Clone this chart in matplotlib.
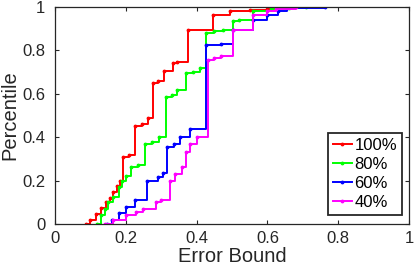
import matplotlib
matplotlib.use("Agg")
import matplotlib.pyplot as plt

plt.rcParams['font.family'] = ['Liberation Sans', 'DejaVu Sans']

x100 = [0.088, 0.10, 0.115, 0.13, 0.145, 0.155, 0.165, 0.175, 0.185, 0.193, 0.21, 0.226,
        0.245, 0.262, 0.276, 0.29, 0.308, 0.333, 0.345, 0.376, 0.447, 0.495, 0.55, 0.60, 0.636]
y100 = [0.0, 0.02, 0.045, 0.075, 0.10, 0.12, 0.15, 0.175, 0.20, 0.31, 0.32, 0.45,
        0.46, 0.49, 0.65, 0.66, 0.705, 0.74, 0.745, 0.894, 0.963, 0.98, 0.985, 0.99, 1.0]

x80 = [0.118, 0.13, 0.14, 0.15, 0.165, 0.18, 0.19, 0.20, 0.215, 0.235, 0.254, 0.275, 0.295,
       0.313, 0.33, 0.345, 0.37, 0.39, 0.41, 0.426, 0.45, 0.475, 0.503, 0.52, 0.56, 0.61, 0.66, 0.71]
y80 = [0.0, 0.04, 0.07, 0.10, 0.126, 0.17, 0.20, 0.22, 0.264, 0.27, 0.37, 0.38, 0.40,
       0.585, 0.595, 0.62, 0.695, 0.70, 0.72, 0.88, 0.89, 0.895, 0.937, 0.94, 0.98, 0.99, 0.995, 1.0]

x60 = [0.146, 0.16, 0.18, 0.20, 0.225, 0.259, 0.29, 0.305, 0.316, 0.335, 0.353, 0.382,
       0.428, 0.47, 0.503, 0.56, 0.60, 0.63, 0.655, 0.763]
y60 = [0.0, 0.018, 0.05, 0.08, 0.11, 0.20, 0.215, 0.235, 0.356, 0.37, 0.40, 0.44,
       0.825, 0.83, 0.894, 0.94, 0.963, 0.98, 0.995, 1.0]

x40 = [0.141, 0.165, 0.20, 0.23, 0.25, 0.285, 0.30, 0.325, 0.34, 0.36, 0.37, 0.38, 0.40,
       0.432, 0.45, 0.47, 0.503, 0.56, 0.60, 0.625, 0.68]
y40 = [0.0, 0.018, 0.04, 0.055, 0.07, 0.10, 0.11, 0.20, 0.23, 0.264, 0.33, 0.37, 0.40,
       0.756, 0.765, 0.775, 0.894, 0.963, 0.98, 0.99, 1.0]

series = [("100%", x100, y100, "#ff0000"),
          ("80%", x80, y80, "#00ff00"),
          ("60%", x60, y60, "#0000ff"),
          ("40%", x40, y40, "#ff00ff")]

fig = plt.figure(figsize=(4.15, 2.70), dpi=100)
ax = fig.add_axes([0.1325, 0.170, 0.853, 0.804])

for label, xs, ys, c in series:
    ax.plot(xs, ys, drawstyle='steps-post', color=c, linewidth=1.4,
            marker='.', markersize=3.5, label=label)

ax.set_xlim(0, 1)
ax.set_ylim(0, 1)
ticks = [0, 0.2, 0.4, 0.6, 0.8, 1]
ax.set_xticks(ticks)
ax.set_yticks(ticks)
ax.set_xticklabels(["0", "0.2", "0.4", "0.6", "0.8", "1"])
ax.set_yticklabels(["0", "0.2", "0.4", "0.6", "0.8", "1"])
ax.tick_params(direction='in', top=True, right=True, length=3, width=0.8,
               labelsize=12, colors='#262626')
ax.tick_params(axis='y', pad=7)
ax.tick_params(axis='x', pad=5)
for s in ax.spines.values():
    s.set_color('#262626')
    s.set_linewidth(0.9)

ax.set_xlabel("Error Bound", fontsize=14.5, color='#262626', labelpad=1)
ax.set_ylabel("Percentile", fontsize=14.5, color='#262626', labelpad=2)

leg = ax.legend(loc='lower right', bbox_to_anchor=(0.980, 0.041), fontsize=12,
                handlelength=1.15, handletextpad=0.15, borderpad=0.3, labelspacing=0.25,
                borderaxespad=0, fancybox=False, framealpha=1)
leg.get_frame().set_edgecolor('#262626')
leg.get_frame().set_linewidth(1.3)

fig.savefig("out.png", dpi=100)
